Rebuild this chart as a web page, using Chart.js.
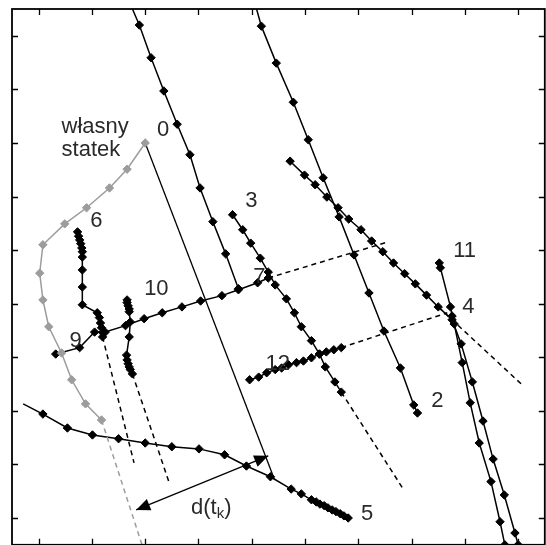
<!DOCTYPE html>
<html>
<head>
<meta charset="utf-8">
<script src="https://cdn.jsdelivr.net/npm/chart.js@4.4.0/dist/chart.umd.min.js"></script>
<style>
  html, body { margin: 0; padding: 0; background: #fff; overflow: hidden; }
  #wrap { width: 550px; height: 550px; }
</style>
</head>
<body>
<div id="wrap"><canvas id="chart" width="550" height="550"></canvas></div>
<script>
// grid ticks (units of the plot, both axes)
const tickValues = [1, 2, 3, 4, 5, 6, 7, 8, 9, 10];

// own ship track and its prediction
const ownShip = [[3.00, 8.00], [2.66, 7.51], [2.33, 7.16], [1.90, 6.79], [1.49, 6.49], [1.08, 6.10],
  [1.02, 5.57], [1.08, 5.07], [1.19, 4.57], [1.43, 4.08], [1.62, 3.58], [1.88, 3.13], [2.18, 2.83]];
const ownShipPred = [[2.18, 2.83], [2.94, 0.5]];
// relative motion line from own ship
const relLine = [[3.00, 8.00], [5.43, 1.71]];
// distance d(t_k)
const distArrow = [[2.83, 1.15], [5.31, 2.16]];

// target tracks
const track0 = [[2.76, 10.5], [2.89, 10.20], [3.11, 9.59], [3.35, 8.97], [3.60, 8.35], [3.84, 7.78],
  [4.03, 7.16], [4.27, 6.53], [4.51, 5.93], [4.75, 5.28]];
const track2 = [[5.09, 10.5], [5.18, 10.18], [5.46, 9.49], [5.78, 8.76], [6.06, 8.06], [6.34, 7.35],
  [6.64, 6.62], [6.92, 5.91], [7.20, 5.20], [7.48, 4.49], [7.79, 3.80], [8.04, 3.11], [8.11, 2.96]];
const track4 = [[5.72, 7.66], [5.99, 7.40], [6.19, 7.22], [6.41, 6.99], [6.62, 6.79], [6.82, 6.58],
  [7.05, 6.38], [7.25, 6.17], [7.46, 5.97], [7.66, 5.76], [7.87, 5.56], [8.07, 5.37], [8.28, 5.16],
  [8.50, 4.94], [8.76, 4.70], [8.93, 4.25], [9.14, 3.54], [9.34, 2.81], [9.53, 2.10], [9.74, 1.43],
  [9.94, 0.72], [10.00, 0.5]];
const track4Pred = [[8.50, 4.94], [10.07, 3.49]];
const track11 = [[8.52, 5.76], [8.54, 5.67], [8.73, 4.94], [8.76, 4.77], [8.80, 4.62], [8.95, 3.90],
  [9.10, 3.15], [9.27, 2.40], [9.49, 1.68], [9.66, 0.93], [9.75, 0.5]];
const track3 = [[4.64, 6.66], [4.83, 6.38], [4.98, 6.13], [5.16, 5.85], [5.31, 5.59], [5.44, 5.35],
  [5.65, 5.09], [5.80, 4.83], [5.93, 4.57], [6.12, 4.31], [6.27, 4.06], [6.38, 3.82], [6.56, 3.54],
  [6.68, 3.35]];
const track3Pred = [[6.68, 3.35], [7.83, 1.56]];
const track9 = [[1.32, 4.06], [1.77, 4.18], [2.05, 4.47], [2.25, 4.47], [2.63, 4.59], [2.98, 4.72],
  [3.32, 4.83], [3.69, 4.94], [4.04, 5.05], [4.44, 5.15], [4.75, 5.26], [5.11, 5.39], [5.31, 5.48]];
const track9Pred = [[5.31, 5.48], [7.55, 6.15]];
const track12 = [[4.96, 3.58], [5.13, 3.63], [5.28, 3.71], [5.44, 3.77], [5.56, 3.80], [5.69, 3.86],
  [5.84, 3.90], [5.97, 3.93], [6.12, 3.99], [6.27, 4.06], [6.40, 4.10], [6.54, 4.14], [6.68, 4.18]];
const track12Pred = [[6.68, 4.18], [8.67, 4.83]];
const track6 = [[1.73, 6.34], [1.75, 6.26], [1.77, 6.19], [1.79, 6.12], [1.81, 6.04], [1.82, 5.97],
  [1.82, 5.87], [1.82, 5.63], [1.82, 5.31], [1.82, 4.98], [2.10, 4.83], [2.14, 4.74], [2.16, 4.64],
  [2.18, 4.55], [2.20, 4.46], [2.20, 4.38]];
const track6Pred = [[2.20, 4.38], [2.79, 2.03]];
const track10 = [[2.66, 5.07], [2.66, 5.02], [2.68, 4.96], [2.70, 4.90], [2.70, 4.85], [2.72, 4.66],
  [2.70, 4.38], [2.65, 4.04], [2.66, 3.95], [2.68, 3.88], [2.70, 3.82], [2.72, 3.77], [2.76, 3.69]];
const track10Pred = [[2.76, 3.69], [3.45, 1.66]];
const track5 = [[0.71, 3.13], [1.08, 2.94], [1.54, 2.68], [2.01, 2.55], [2.50, 2.48], [3.00, 2.40],
  [3.50, 2.33], [4.01, 2.29], [4.49, 2.18], [4.90, 1.97], [5.35, 1.77], [5.74, 1.54], [5.93, 1.45],
  [6.12, 1.34], [6.21, 1.30], [6.28, 1.26], [6.36, 1.23], [6.43, 1.19], [6.51, 1.15], [6.58, 1.12],
  [6.66, 1.08], [6.73, 1.04], [6.81, 1.00]];

// track numbers and text, anchored at left/baseline
const trackLabels = [
  {text: 'własny', x: 1.43, y: 8.19}, {text: 'statek', x: 1.43, y: 7.76},
  {text: '0', x: 3.22, y: 8.13}, {text: '2', x: 8.37, y: 3.07},
  {text: '3', x: 4.88, y: 6.81}, {text: '4', x: 8.95, y: 4.83}, {text: '5', x: 7.05, y: 0.97},
  {text: '6', x: 1.97, y: 6.43}, {text: '7', x: 5.03, y: 5.39}, {text: '9', x: 1.58, y: 4.19},
  {text: '10', x: 2.98, y: 5.16}, {text: '11', x: 8.78, y: 5.87}, {text: '12', x: 5.26, y: 3.77}
];
const distLabel = {x: 3.86, y: 1.08};

function line(points, opts = {}) {
  const color = opts.color || '#000';
  return {
    data: points.map(p => ({x: p[0], y: p[1]})),
    showLine: true,
    borderColor: color,
    backgroundColor: color,
    borderWidth: opts.width || 1.5,
    borderDash: opts.dash || [],
    pointStyle: 'rectRot',
    pointRadius: opts.markers === false ? 0 : (c => (opts.bareStart && c.dataIndex === 0 ? 0 : 4.2)),
    pointBorderColor: color,
    pointBorderWidth: 1,
    pointHoverRadius: 0,
    tension: 0
  };
}

const dash = [5, 4];
const gray = '#9c9c9c';

function arrowHead(ctx, tip, from) {
  const ang = Math.atan2(tip.y - from.y, tip.x - from.x);
  const len = 14, half = 6;
  ctx.beginPath();
  ctx.moveTo(tip.x, tip.y);
  ctx.lineTo(tip.x - len * Math.cos(ang) + half * Math.sin(ang), tip.y - len * Math.sin(ang) - half * Math.cos(ang));
  ctx.lineTo(tip.x - len * Math.cos(ang) - half * Math.sin(ang), tip.y - len * Math.sin(ang) + half * Math.cos(ang));
  ctx.closePath();
  ctx.fill();
}

const decorations = {
  id: 'decorations',
  afterDatasetsDraw(chart) {
    const {ctx, chartArea: a, scales: {x, y}} = chart;
    ctx.save();
    // frame with inward ticks
    ctx.strokeStyle = '#000';
    ctx.lineWidth = 1.8;
    ctx.strokeRect(a.left, a.top, a.right - a.left, a.bottom - a.top);
    ctx.lineWidth = 1.3;
    ctx.beginPath();
    tickValues.forEach(v => {
      const px = Math.round(x.getPixelForValue(v)) + 0.5;
      const py = Math.round(y.getPixelForValue(v)) + 0.5;
      ctx.moveTo(px, a.top); ctx.lineTo(px, a.top + 6);
      ctx.moveTo(px, a.bottom); ctx.lineTo(px, a.bottom - 6);
      ctx.moveTo(a.left, py); ctx.lineTo(a.left + 6, py);
      ctx.moveTo(a.right, py); ctx.lineTo(a.right - 6, py);
    });
    ctx.stroke();

    // arrowheads of d(t_k)
    const p0 = {x: x.getPixelForValue(distArrow[0][0]), y: y.getPixelForValue(distArrow[0][1])};
    const p1 = {x: x.getPixelForValue(distArrow[1][0]), y: y.getPixelForValue(distArrow[1][1])};
    ctx.fillStyle = '#000';
    arrowHead(ctx, p0, p1);
    arrowHead(ctx, p1, p0);

    // labels
    ctx.fillStyle = '#2a2a2a';
    ctx.font = '22px "Liberation Sans", Arial, sans-serif';
    ctx.textBaseline = 'alphabetic';
    ctx.textAlign = 'left';
    trackLabels.forEach(l => ctx.fillText(l.text, x.getPixelForValue(l.x), y.getPixelForValue(l.y)));

    let lx = x.getPixelForValue(distLabel.x);
    const ly = y.getPixelForValue(distLabel.y);
    ctx.fillText('d(t', lx, ly);
    lx += ctx.measureText('d(t').width;
    ctx.font = '15px "Liberation Sans", Arial, sans-serif';
    ctx.fillText('k', lx, ly + 4);
    lx += ctx.measureText('k').width;
    ctx.font = '22px "Liberation Sans", Arial, sans-serif';
    ctx.fillText(')', lx, ly);
    ctx.restore();
  }
};

new Chart(document.getElementById('chart'), {
  type: 'scatter',
  data: {
    datasets: [
      line(ownShip, {color: gray}),
      line(ownShipPred, {color: gray, dash: dash, markers: false}),
      line(relLine, {markers: false, width: 1.3}),
      line(distArrow, {markers: false, width: 1.3}),
      line(track0, {bareStart: true}),
      line(track2, {bareStart: true}),
      line(track4),
      line(track4Pred, {dash: dash, markers: false}),
      line(track11),
      line(track3),
      line(track3Pred, {dash: dash, markers: false}),
      line(track9),
      line(track9Pred, {dash: dash, markers: false}),
      line(track12),
      line(track12Pred, {dash: dash, markers: false}),
      line(track6),
      line(track6Pred, {dash: dash, markers: false}),
      line(track10),
      line(track10Pred, {dash: dash, markers: false}),
      line(track5, {bareStart: true})
    ]
  },
  options: {
    responsive: false,
    animation: false,
    devicePixelRatio: 1,
    layout: {padding: {left: 12, top: 9, right: 2, bottom: 5}},
    scales: {
      x: {type: 'linear', min: 0.5, max: 10.5, display: false},
      y: {type: 'linear', min: 0.5, max: 10.5, display: false}
    },
    plugins: {
      legend: {display: false},
      tooltip: {enabled: false}
    }
  },
  plugins: [decorations]
});
</script>
</body>
</html>
